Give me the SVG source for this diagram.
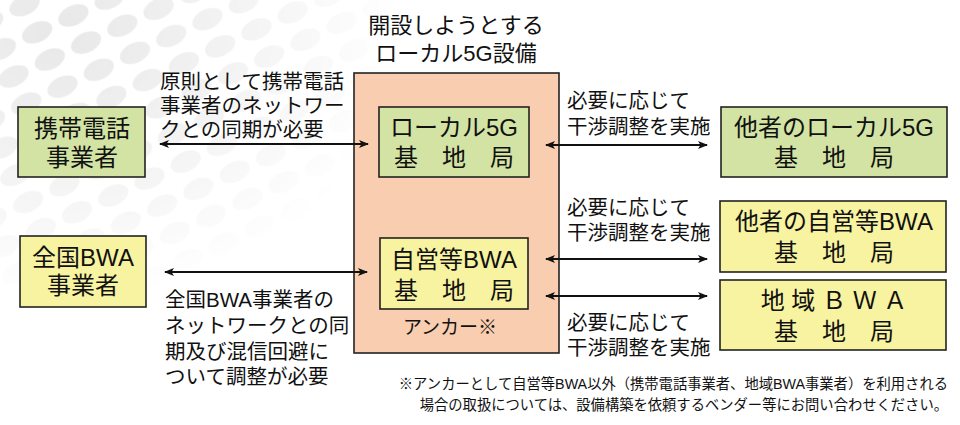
<svg xmlns="http://www.w3.org/2000/svg" width="960" height="425" viewBox="0 0 960 425">
<style>
text{font-family:"Liberation Sans","Noto Sans CJK JP",sans-serif;fill:#111}
.box{stroke:#222;stroke-width:1.6}
.g{fill:#D2E3A3}
.y{fill:#F7F3A0}
.p{fill:#F9CDAF}
.bt{font-size:24px;text-anchor:middle}
.tt{font-size:22px;text-anchor:middle}
.lb{font-size:20.5px}
.fn{font-size:14.3px;text-anchor:end}
.ar{stroke:#111;stroke-width:2;fill:none;marker-start:url(#ah);marker-end:url(#ah)}
</style>
<defs>
<marker id="ah" viewBox="0 0 10 10" refX="9" refY="5" markerWidth="5" markerHeight="5" orient="auto-start-reverse" markerUnits="strokeWidth">
<path d="M0,1 L10,5 L0,9 L2.5,5 Z" fill="#111"/>
</marker>
<radialGradient id="fade" cx="0.15" cy="0.1" r="0.85">
<stop offset="0" stop-color="#fff" stop-opacity="0.8"/>
<stop offset="0.6" stop-color="#fff" stop-opacity="0.35"/>
<stop offset="1" stop-color="#fff" stop-opacity="0"/>
</radialGradient>
<mask id="m"><rect x="0" y="0" width="400" height="320" fill="url(#fade)"/></mask>
<pattern id="dots" width="40" height="30" patternUnits="userSpaceOnUse" patternTransform="rotate(-25)">
<ellipse cx="20" cy="15" rx="16" ry="10" fill="#e2e2e2"/>
</pattern>
</defs>
<g id="background">
<rect x="0" y="0" width="400" height="320" fill="url(#dots)" mask="url(#m)"/>
</g>
<g id="local5g-facility">
<rect class="box p" x="354" y="73" width="205" height="280"/>
<text class="tt" x="456" y="33">開設しようとする<tspan x="456" dy="28">ローカル5G設備</tspan></text>
<text x="450" y="334" style="font-size:19px;text-anchor:middle">アンカー※</text>
</g>
<g id="local5g-bs">
<rect class="box g" x="379" y="107" width="150" height="70"/>
<text class="bt" x="454" y="136">ローカル5G<tspan x="454" dy="30">基　地　局</tspan></text>
</g>
<g id="private-bwa-bs">
<rect class="box y" x="380" y="238" width="148" height="71"/>
<text class="bt" x="454" y="268">自営等BWA<tspan x="454" dy="31">基　地　局</tspan></text>
</g>
<g id="mobile-operator">
<rect class="box g" x="18" y="107" width="127" height="70"/>
<text class="bt" x="82" y="137">携帯電話<tspan x="82" dy="29">事業者</tspan></text>
</g>
<g id="national-bwa">
<rect class="box y" x="20" y="236" width="126" height="71"/>
<text class="bt" x="83" y="266">全国BWA<tspan x="83" dy="28">事業者</tspan></text>
</g>
<g id="other-local5g">
<rect class="box g" x="721" y="107" width="226" height="70"/>
<text class="bt" x="834" y="136">他者のローカル5G<tspan x="834" dy="30">基　地　局</tspan></text>
</g>
<g id="other-private-bwa">
<rect class="box y" x="720" y="201" width="226" height="71"/>
<text class="bt" x="834" y="230">他者の自営等BWA<tspan x="834" dy="31">基　地　局</tspan></text>
</g>
<g id="regional-bwa">
<rect class="box y" x="720" y="280" width="226" height="70"/>
<text class="bt" x="834" y="309">地 域 Ｂ Ｗ Ａ<tspan x="834" dy="31">基　地　局</tspan></text>
</g>
<g id="connectors">
<line class="ar" x1="160" y1="144" x2="368" y2="144"/>
<line class="ar" x1="165" y1="272" x2="367" y2="272"/>
<line class="ar" x1="546" y1="145" x2="707" y2="145"/>
<line class="ar" x1="546" y1="259" x2="707" y2="259"/>
<line class="ar" x1="546" y1="296" x2="707" y2="296"/>
</g>
<g id="labels">
<text class="lb" x="160" y="89">原則として携帯電話<tspan x="160" dy="24">事業者のネットワー</tspan><tspan x="160" dy="24">クとの同期が必要</tspan></text>
<text class="lb" x="567" y="108">必要に応じて<tspan x="567" dy="26">干渉調整を実施</tspan></text>
<text class="lb" x="567" y="215">必要に応じて<tspan x="567" dy="25">干渉調整を実施</tspan></text>
<text class="lb" x="567" y="330">必要に応じて<tspan x="567" dy="25">干渉調整を実施</tspan></text>
<text class="lb" x="165" y="307">全国BWA事業者の<tspan x="165" dy="26">ネットワークとの同</tspan><tspan x="165" dy="26">期及び混信回避に</tspan><tspan x="165" dy="25">ついて調整が必要</tspan></text>
</g>
<g id="footnote">
<text class="fn" x="948" y="389">※アンカーとして自営等BWA以外（携帯電話事業者、地域BWA事業者）を利用される<tspan x="948" dy="21">場合の取扱については、設備構築を依頼するベンダー等にお問い合わせください。</tspan></text>
</g>
</svg>
